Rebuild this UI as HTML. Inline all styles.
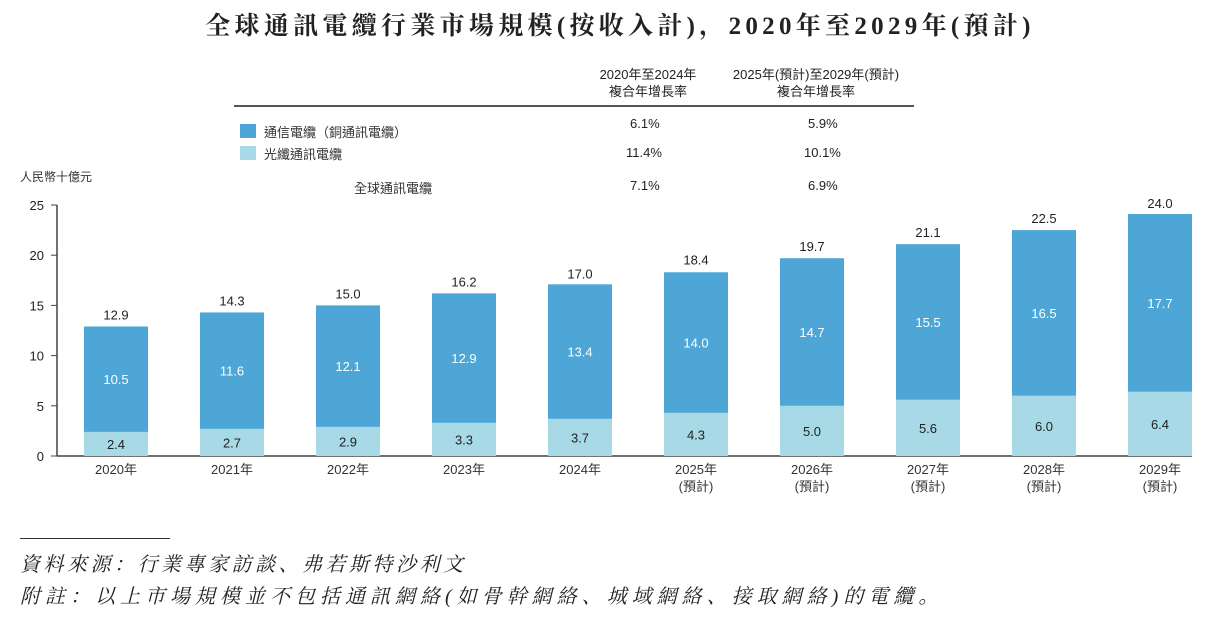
<!DOCTYPE html>
<html><head><meta charset="utf-8"><style>
body{margin:0;background:#fff;width:1226px;height:619px;overflow:hidden;font-family:"Liberation Sans","Noto Sans CJK TC",sans-serif;color:#222}
.t{position:absolute;white-space:nowrap}
</style></head><body>
<div class="t" style="left:0;width:1240px;text-align:center;top:6px;font-size:25px;font-weight:bold;font-family:'Liberation Serif','Noto Serif CJK SC',serif;letter-spacing:4.3px">全球通訊電纜行業市場規模(按收入計)，2020年至2029年(預計)</div>
<div class="t" style="left:588px;top:66px;width:120px;text-align:center;font-size:13px;line-height:17px">2020年至2024年<br>複合年增長率</div>
<div class="t" style="left:710px;top:66px;width:212px;text-align:center;font-size:13px;line-height:17px">2025年(預計)至2029年(預計)<br>複合年增長率</div>
<div style="position:absolute;left:234px;top:105px;width:680px;height:2px;background:#555"></div>
<div style="position:absolute;left:240px;top:124px;width:16px;height:14px;background:#4da6d5"></div>
<div class="t" style="left:264px;top:122px;font-size:13px;color:#333">通信電纜（銅通訊電纜）</div>
<div style="position:absolute;left:240px;top:146px;width:16px;height:14px;background:#a7d9e7"></div>
<div class="t" style="left:264px;top:144px;font-size:13px;color:#333">光纖通訊電纜</div>
<div class="t" style="left:354px;top:178px;font-size:13px;color:#333">全球通訊電纜</div>
<div class="t" style="left:630px;top:116px;font-size:13px">6.1%</div>
<div class="t" style="left:808px;top:116px;font-size:13px">5.9%</div>
<div class="t" style="left:626px;top:145px;font-size:13px">11.4%</div>
<div class="t" style="left:804px;top:145px;font-size:13px">10.1%</div>
<div class="t" style="left:630px;top:178px;font-size:13px">7.1%</div>
<div class="t" style="left:808px;top:178px;font-size:13px">6.9%</div>
<div class="t" style="left:20px;top:168px;font-size:12px;color:#333">人民幣十億元</div>
<svg id="chart" width="1226" height="619" style="position:absolute;left:0;top:0"></svg>
<div style="position:absolute;left:20px;top:538px;width:150px;height:1px;background:#333"></div>
<div class="t" style="left:20px;top:548px;font-size:20px;letter-spacing:3.5px;font-style:italic;font-family:'Liberation Serif','Noto Serif CJK SC',serif">資料來源：行業專家訪談、弗若斯特沙利文</div>
<div class="t" style="left:20px;top:580px;font-size:20px;letter-spacing:5px;font-style:italic;font-family:'Liberation Serif','Noto Serif CJK SC',serif">附註：以上市場規模並不包括通訊網絡(如骨幹網絡、城域網絡、接取網絡)的電纜。</div>
<script>
const years=["2020年","2021年","2022年","2023年","2024年","2025年","2026年","2027年","2028年","2029年"];
const forecast=[false,false,false,false,false,true,true,true,true,true];
const fiber=[2.4,2.7,2.9,3.3,3.7,4.3,5.0,5.6,6.0,6.4];
const copper=[10.5,11.6,12.1,12.9,13.4,14.0,14.7,15.5,16.5,17.7];
const totals=[12.9,14.3,15.0,16.2,17.0,18.4,19.7,21.1,22.5,24.0];
const yTicks=[0,5,10,15,20,25];
const NS="http://www.w3.org/2000/svg",svg=document.getElementById('chart');
const y0=456,yTop=205,yMax=25;
const y=v=>y0-(y0-yTop)*v/yMax;
const x=i=>116+i*116;
const bw=64;
function mk(t,a,txt){const e=document.createElementNS(NS,t);for(const k in a)e.setAttribute(k,a[k]);if(txt!==undefined)e.textContent=txt;svg.appendChild(e);return e;}
let ax=mk('line',{x1:57,y1:yTop,x2:57,y2:y0,stroke:'#444','stroke-width':1.5});

let bx=mk('line',{x1:57,y1:y0,x2:1192,y2:y0,stroke:'#444','stroke-width':1.5});

yTicks.forEach(v=>{
 let l=mk('line',{x1:51,y1:y(v),x2:57,y2:y(v),stroke:'#444'});
 
 let t=mk('text',{x:44,y:y(v)+5,'text-anchor':'end','font-size':13,fill:'#222'},v);
 
});
years.forEach((yr,i)=>{
 const cx=x(i);
 let r1=mk('rect',{x:cx-bw/2,y:y(fiber[i]),width:bw,height:y0-y(fiber[i]),fill:'#a7d9e7'});
 
 let r2=mk('rect',{x:cx-bw/2,y:y(fiber[i]+copper[i]),width:bw,height:y(fiber[i])-y(fiber[i]+copper[i]),fill:'#4da6d5'});
 
 let t1=mk('text',{x:cx,y:(y(fiber[i])+y0)/2+5,'text-anchor':'middle','font-size':13,fill:'#222'},fiber[i].toFixed(1));
 
 let t2=mk('text',{x:cx,y:(y(fiber[i])+y(fiber[i]+copper[i]))/2+5,'text-anchor':'middle','font-size':13,fill:'#fff'},copper[i].toFixed(1));
 
 let t3=mk('text',{x:cx,y:y(totals[i])-7,'text-anchor':'middle','font-size':13,fill:'#222'},totals[i].toFixed(1));
 
 let t4=mk('text',{x:cx,y:474,'text-anchor':'middle','font-size':13,fill:'#333'},yr);
 
 if(forecast[i]){let t5=mk('text',{x:cx,y:491,'text-anchor':'middle','font-size':13,fill:'#333'},'(預計)');
 }
});
</script>
</body></html>
